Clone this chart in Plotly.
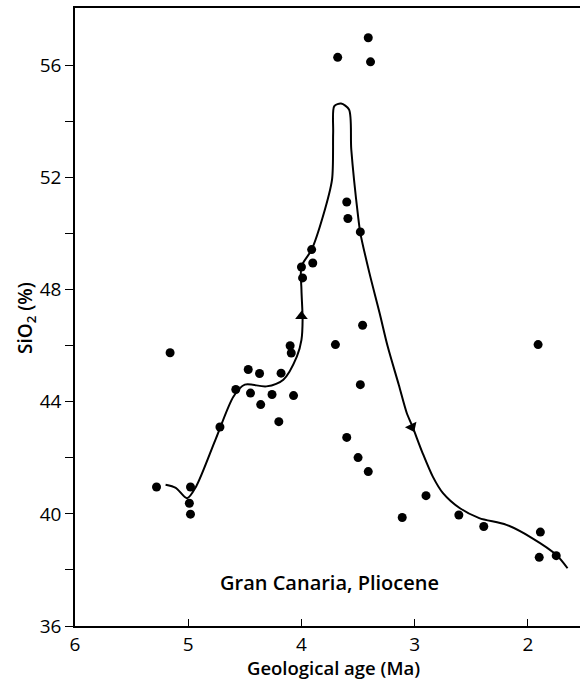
import plotly.graph_objects as go

# Data points (age in Ma, SiO2 %)
age = [5.28, 5.16, 4.98, 4.99, 4.98, 4.72, 4.58, 4.47, 4.45, 4.37, 4.36, 4.26,
       4.18, 4.20, 4.10, 4.09, 4.07, 3.70, 3.48, 3.60, 3.50, 3.41, 2.90, 3.11,
       2.61, 2.39, 1.91, 1.89, 1.90, 1.75, 3.68, 3.41, 3.39, 3.60, 3.59, 3.48,
       3.91, 3.90, 4.00, 3.99, 3.46]
sio2 = [40.96, 45.75, 40.96, 40.38, 39.99, 43.10, 44.44, 45.15, 44.31, 45.01, 43.90, 44.26,
        45.02, 43.29, 46.00, 45.74, 44.22, 46.04, 44.61, 42.73, 42.01, 41.51, 40.65, 39.87,
        39.96, 39.55, 46.04, 39.35, 38.45, 38.51, 56.29, 56.99, 56.13, 51.13, 50.54, 50.06,
        49.43, 48.95, 48.81, 48.42, 46.73]

# Trend curve
curve_age = [5.20, 5.11, 5.01, 4.93, 4.76, 4.60, 4.50, 4.31, 4.16, 4.04, 4.00, 3.99,
             4.00, 4.00, 3.91, 3.81, 3.73, 3.72, 3.71, 3.65, 3.58, 3.56, 3.50, 3.48,
             3.40, 3.31, 3.24, 3.14, 3.07, 3.02, 2.93, 2.84, 2.75, 2.60, 2.43, 2.19,
             1.96, 1.75, 1.65]
curve_sio2 = [41.04, 40.93, 40.56, 40.98, 42.64, 44.19, 44.61, 44.55, 44.79, 45.62, 46.21, 46.93,
              48.00, 48.83, 49.43, 50.62, 51.93, 53.60, 54.55, 54.64, 54.43, 53.00, 50.62, 50.02,
              48.60, 47.17, 46.00, 44.60, 43.60, 43.12, 42.17, 41.33, 40.74, 40.20, 39.85, 39.61,
              39.13, 38.54, 38.06]

arrow_age = [4.00, 3.025]
arrow_sio2 = [47.05, 43.10]
arrow_symbols = ["triangle-up", "triangle-down"]
arrow_angles = [0, -25]

y_ticks = [36, 38, 40, 42, 44, 46, 48, 50, 52, 54, 56]
y_labels = [str(v) if v % 4 == 0 else "" for v in y_ticks]
x_ticks = [6, 5, 4, 3, 2]

fig = go.Figure()
fig.add_trace(go.Scatter(x=curve_age, y=curve_sio2, mode="lines",
                         line=dict(color="black", width=2, shape="spline", smoothing=0.8),
                         hoverinfo="skip"))
fig.add_trace(go.Scatter(x=age, y=sio2, mode="markers",
                         marker=dict(color="black", size=9)))
fig.add_trace(go.Scatter(x=arrow_age, y=arrow_sio2, mode="markers",
                         marker=dict(color="black", size=11, symbol=arrow_symbols,
                                     angle=arrow_angles)))

fig.add_annotation(x=3.75, y=37.55, text="Gran Canaria, Pliocene", showarrow=False,
                   font=dict(family="Open Sans", size=20, color="black", weight=600))
fig.add_annotation(xref="paper", yref="paper", x=(26 - 75) / 505, y=(626 - 318) / 618,
                   xanchor="center", yanchor="middle",
                   text="SiO<sub>2</sub> (%)", textangle=-90, showarrow=False,
                   font=dict(family="Open Sans", size=19, color="black", weight=600))
fig.add_annotation(xref="paper", yref="paper", x=(333 - 75) / 505, y=-(667 - 626) / 618,
                   xanchor="center", yanchor="middle",
                   text="Geological age (Ma)", showarrow=False,
                   font=dict(family="Open Sans", size=18.5, color="black", weight=600))

fig.update_layout(
    width=581, height=680,
    margin=dict(l=75, r=1, t=8, b=54),
    paper_bgcolor="white", plot_bgcolor="white",
    showlegend=False,
    font=dict(family="Open Sans", size=19, color="black"),
    xaxis=dict(range=[6, 1.54], tickvals=x_ticks, ticktext=[str(v) for v in x_ticks],
               ticks="inside", ticklen=7, tickwidth=1.2, tickcolor="black",
               showline=True, linecolor="black", linewidth=1.5, mirror=True,
               showgrid=False, zeroline=False),
    yaxis=dict(range=[36, 58.05], tickvals=y_ticks, ticktext=y_labels,
               ticks="outside", ticklen=8, tickwidth=1.2, tickcolor="black",
               showline=True, linecolor="black", linewidth=1.5,
               showgrid=False, zeroline=False),
)

fig.write_html("out.html")
